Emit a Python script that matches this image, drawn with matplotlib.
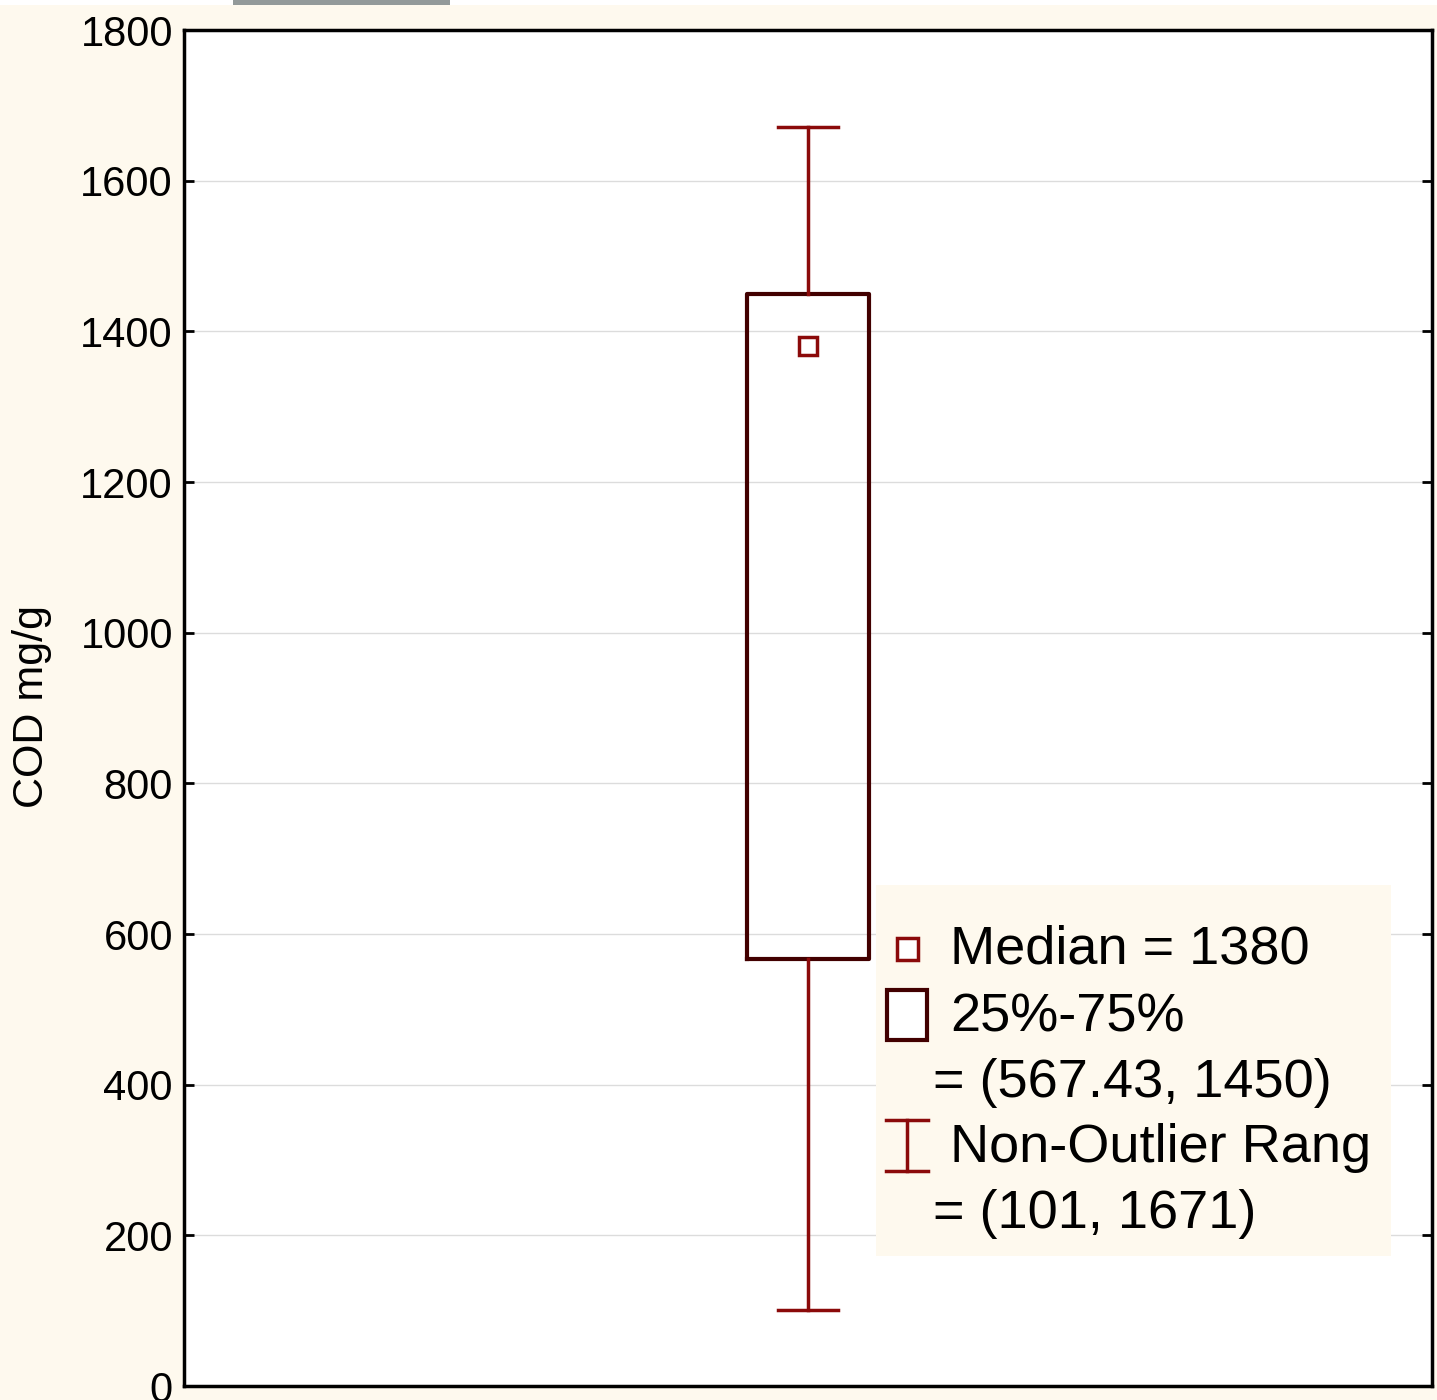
import matplotlib
matplotlib.use('Agg')
from matplotlib import pyplot as plt
from matplotlib.patches import Rectangle
from matplotlib.lines import Line2D

# box statistics (COD mg/g)
median = 1380
q1, q3 = 567.43, 1450
whisker_lo, whisker_hi = 101, 1671
yticks = [0, 200, 400, 600, 800, 1000, 1200, 1400, 1600, 1800]
legend_lines = ['Median = 1380', '25%-75%', '= (567.43, 1450)',
                'Non-Outlier Rang', '= (101, 1671)']

W, H = 1437, 1400
bg = '#fef9ee'
red = '#8b0a0a'
dark = '#420000'

plt.rcParams['font.family'] = ['Liberation Sans', 'DejaVu Sans']

fig = plt.figure(figsize=(W / 100, H / 100), dpi=100, facecolor=bg)


def fx(px):
    return px / W


def fy(py):
    return 1 - py / H


# white strip and gray tab at the very top
fig.patches.append(Rectangle((0, fy(5)), 1, 5 / H, transform=fig.transFigure,
                             facecolor='white', edgecolor='none'))
fig.patches.append(Rectangle((fx(233), fy(5)), fx(450) - fx(233), 5 / H,
                             transform=fig.transFigure,
                             facecolor='#939a9a', edgecolor='none'))

ax = fig.add_axes([fx(184), fy(1386), fx(1432) - fx(184), fy(30) - fy(1386)])
ax.set_facecolor('white')

stats = [dict(med=median, q1=q1, q3=q3, whislo=whisker_lo, whishi=whisker_hi,
              fliers=[])]
ax.bxp(stats, positions=[1], widths=0.196, capwidths=0.096, showfliers=False,
       boxprops=dict(color=dark, linewidth=3),
       whiskerprops=dict(color=red, linewidth=2.5),
       capprops=dict(color=red, linewidth=2.5),
       medianprops=dict(linewidth=0))
ax.plot([1], [median], 's', markersize=13, markerfacecolor='white',
        markeredgecolor=red, markeredgewidth=2.5)

ax.set_xlim(0, 2)
ax.set_ylim(0, 1800)
ax.set_xticks([])
ax.set_yticks(yticks)
ax.set_yticklabels([str(t) for t in yticks], fontsize=30)
ax.tick_params(axis='y', direction='in', length=7, width=2, right=True,
               pad=8)
ax.grid(axis='y', color='#dcdcdc', linewidth=1)
ax.set_axisbelow(True)
for s in ax.spines.values():
    s.set_linewidth(2.5)
    s.set_color('black')

fig.text(fx(32), fy(707), 'COD mg/g', rotation=90, fontsize=31,
         ha='center', va='center')

# legend box
fig.patches.append(Rectangle((fx(876), fy(1256)), fx(1391) - fx(876),
                             (1256 - 885) / H, transform=fig.transFigure,
                             facecolor=bg, edgecolor='none', zorder=5))
fig.patches.append(Rectangle((fx(897), fy(960)), 21 / W, 22 / H,
                             transform=fig.transFigure, facecolor='white',
                             edgecolor=red, linewidth=2.5, zorder=6))
fig.patches.append(Rectangle((fx(887), fy(1040)), 40 / W, 50 / H,
                             transform=fig.transFigure, facecolor='white',
                             edgecolor=dark, linewidth=3, zorder=6))
for seg in [((886, 928), (1120, 1120)), ((886, 928), (1171, 1171)),
            ((907, 907), (1120, 1171))]:
    fig.lines.append(Line2D([fx(p) for p in seg[0]], [fy(p) for p in seg[1]],
                            transform=fig.transFigure, color=red,
                            linewidth=2.5, zorder=6))

text_x = [950, 950, 933, 950, 933]
text_y = [950, 1018, 1083, 1148, 1214]
for s, x, y in zip(legend_lines, text_x, text_y):
    fig.text(fx(x), fy(y), s, fontsize=39, ha='left', va='center', zorder=7)

fig.savefig('out.png', dpi=100, facecolor=bg)
